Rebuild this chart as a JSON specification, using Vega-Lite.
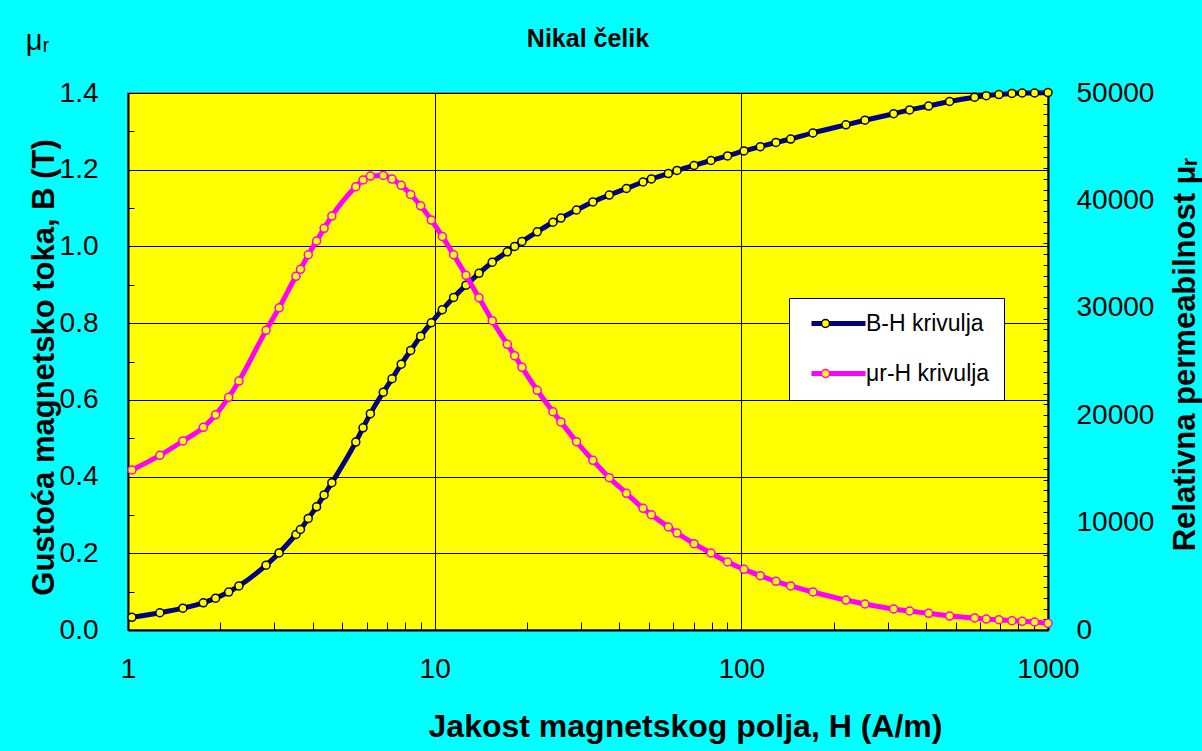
{
  "$schema": "https://vega.github.io/schema/vega-lite/v6.json",
  "width": 920,
  "height": 537,
  "autosize": {"type": "none"},
  "padding": {"left": 128, "top": 93, "right": 154, "bottom": 121},
  "background": "#00FFFF",
  "title": {"text": "Nikal čelik", "font": "Liberation Sans", "fontSize": 25, "fontWeight": "bold", "color": "black", "anchor": "middle", "frame": "group", "baseline": "alphabetic", "offset": 0, "dy": 46},
  "config": {
    "font": "Liberation Sans",
    "view": {"fill": "#FFFF00", "stroke": "#808080", "strokeWidth": 2},
    "axis": {"labelFont": "Liberation Sans", "titleFont": "Liberation Sans", "labelColor": "black", "titleColor": "black", "tickColor": "black", "domainColor": "black", "labelFontSize": 28, "titleFontSize": 31, "titleFontWeight": "bold", "labelFlush": false, "labelOverlap": false, "labelBound": false}
  },
  "data": {"values": [
    {"H": 1.03, "B": 0.033, "mu": 14900},
    {"H": 1.27, "B": 0.045, "mu": 16260},
    {"H": 1.51, "B": 0.057, "mu": 17600},
    {"H": 1.76, "B": 0.071, "mu": 18870},
    {"H": 1.93, "B": 0.083, "mu": 20040},
    {"H": 2.13, "B": 0.099, "mu": 21660},
    {"H": 2.30, "B": 0.115, "mu": 23180},
    {"H": 2.82, "B": 0.169, "mu": 27900},
    {"H": 3.11, "B": 0.201, "mu": 30000},
    {"H": 3.53, "B": 0.249, "mu": 32930},
    {"H": 3.65, "B": 0.262, "mu": 33580},
    {"H": 3.87, "B": 0.291, "mu": 34940},
    {"H": 4.12, "B": 0.321, "mu": 36220},
    {"H": 4.36, "B": 0.352, "mu": 37400},
    {"H": 4.62, "B": 0.384, "mu": 38540},
    {"H": 5.53, "B": 0.490, "mu": 41270},
    {"H": 5.84, "B": 0.527, "mu": 41900},
    {"H": 6.17, "B": 0.564, "mu": 42270},
    {"H": 6.80, "B": 0.620, "mu": 42330},
    {"H": 7.26, "B": 0.655, "mu": 41990},
    {"H": 7.78, "B": 0.693, "mu": 41400},
    {"H": 8.35, "B": 0.729, "mu": 40560},
    {"H": 9.00, "B": 0.766, "mu": 39500},
    {"H": 9.75, "B": 0.801, "mu": 38170},
    {"H": 10.59, "B": 0.835, "mu": 36650},
    {"H": 11.53, "B": 0.867, "mu": 34940},
    {"H": 12.65, "B": 0.899, "mu": 33020},
    {"H": 13.95, "B": 0.930, "mu": 30940},
    {"H": 15.41, "B": 0.959, "mu": 28800},
    {"H": 17.25, "B": 0.986, "mu": 26600},
    {"H": 18.23, "B": 1.000, "mu": 25540},
    {"H": 19.26, "B": 1.013, "mu": 24460},
    {"H": 21.6, "B": 1.038, "mu": 22320},
    {"H": 24.3, "B": 1.063, "mu": 20320},
    {"H": 25.8, "B": 1.074, "mu": 19370},
    {"H": 29.0, "B": 1.095, "mu": 17530},
    {"H": 32.8, "B": 1.116, "mu": 15800},
    {"H": 37.1, "B": 1.134, "mu": 14180},
    {"H": 42.2, "B": 1.151, "mu": 12730},
    {"H": 47.8, "B": 1.168, "mu": 11330},
    {"H": 50.9, "B": 1.176, "mu": 10730},
    {"H": 57.8, "B": 1.190, "mu": 9590},
    {"H": 61.7, "B": 1.198, "mu": 9030},
    {"H": 70.1, "B": 1.211, "mu": 8040},
    {"H": 79.6, "B": 1.224, "mu": 7170},
    {"H": 90.2, "B": 1.236, "mu": 6330},
    {"H": 102, "B": 1.249, "mu": 5650},
    {"H": 115.3, "B": 1.260, "mu": 5060},
    {"H": 129.7, "B": 1.271, "mu": 4530},
    {"H": 144.8, "B": 1.280, "mu": 4100},
    {"H": 171.2, "B": 1.296, "mu": 3540},
    {"H": 219.3, "B": 1.317, "mu": 2790},
    {"H": 253, "B": 1.329, "mu": 2420},
    {"H": 313.8, "B": 1.346, "mu": 1960},
    {"H": 353.8, "B": 1.356, "mu": 1770},
    {"H": 408, "B": 1.366, "mu": 1550},
    {"H": 477.6, "B": 1.378, "mu": 1300},
    {"H": 576.5, "B": 1.389, "mu": 1120},
    {"H": 629, "B": 1.393, "mu": 1020},
    {"H": 691.8, "B": 1.396, "mu": 960},
    {"H": 762.6, "B": 1.399, "mu": 870},
    {"H": 823.6, "B": 1.400, "mu": 810},
    {"H": 904, "B": 1.400, "mu": 745},
    {"H": 1000, "B": 1.401, "mu": 620}
  ]},
  "layer": [
    {
      "encoding": {
        "x": {"field": "H", "type": "quantitative", "scale": {"type": "log", "domain": [1, 1000]},
          "axis": {"orient": "bottom", "title": "Jakost magnetskog polja, H (A/m)", "values": [1,2,3,4,5,6,7,8,9,10,20,30,40,50,60,70,80,90,100,200,300,400,500,600,700,800,900,1000], "format": "d",
            "labelExpr": "(datum.value == 1 || datum.value == 10 || datum.value == 100 || datum.value == 1000) ? datum.label : ''",
            "grid": true, "gridWidth": 1, "gridColor": {"condition": {"test": "datum.value == 10 || datum.value == 100", "value": "black"}, "value": "transparent"},
            "tickSize": -8, "domainWidth": 2, "labelPadding": 33, "titleFontSize": 32, "titleX": 557, "titleY": 96, "titleBaseline": "middle", "titleAlign": "center"}},
        "y": {"field": "B", "type": "quantitative", "scale": {"domain": [0, 1.4]},
          "axis": {"orient": "left", "title": "Gustoća magnetsko toka, B (T)", "values": [0,0.1,0.2,0.3,0.4,0.5,0.6,0.7,0.8,0.9,1.0,1.1,1.2,1.3,1.4],
            "labelExpr": "round(datum.value*10) % 2 == 0 ? format(datum.value, '.1f') : ''",
            "grid": true, "gridWidth": 1, "gridColor": {"condition": {"test": "round(datum.value*10) % 2 == 0", "value": "black"}, "value": "transparent"},
            "tickSize": -6, "domainWidth": 2, "labelPadding": 36, "titleFontSize": 31, "titleAngle": -90, "titleX": -84, "titleY": 274, "titleBaseline": "middle", "titleAlign": "center"}}
      },
      "layer": [
        {"mark": {"type": "line", "interpolate": "monotone", "strokeWidth": 5},
         "encoding": {"color": {"datum": "B-H krivulja", "type": "nominal", "scale": {"domain": ["B-H krivulja", "μr-H krivulja"], "range": ["#000080", "#FF00FF"]},
           "legend": {"orient": "none", "legendX": 661, "legendY": 205, "title": null, "fillColor": "white", "strokeColor": "black", "padding": 14, "symbolType": "M-3.5,0H3.5", "symbolSize": 238, "symbolStrokeWidth": 5, "symbolOffset": 24, "labelOffset": 16, "labelFontSize": 23, "labelFont": "Liberation Sans", "labelColor": "black", "rowPadding": 26}}}},
        {"mark": {"type": "point", "filled": true, "fill": "#FFFF00", "size": 64, "strokeWidth": 1.5, "opacity": 1},
         "encoding": {"stroke": {"datum": "B", "type": "nominal", "scale": {"domain": ["B", "μ"], "range": ["#000000", "#FF00FF"]},
           "legend": {"orient": "none", "legendX": 661, "legendY": 205, "title": null, "padding": 14, "symbolType": "circle", "symbolSize": 64, "symbolFillColor": "#FFFF00", "symbolStrokeWidth": 1.5, "symbolOpacity": 1, "symbolOffset": 11, "labelFontSize": 23, "labelFont": "Liberation Sans", "labelColor": "transparent", "rowPadding": 26, "zindex": 2}}}}
      ]
    },
    {
      "encoding": {
        "x": {"field": "H", "type": "quantitative", "scale": {"type": "log", "domain": [1, 1000]},
          "axis": {"orient": "top", "title": "μᵣ", "domain": false, "ticks": false, "labels": false, "grid": false, "titleFontSize": 29, "titleFontWeight": "normal", "titleX": -91, "titleY": -53, "titleBaseline": "middle", "titleAlign": "center", "titleAngle": 0}},
        "y": {"field": "mu", "type": "quantitative", "scale": {"domain": [0, 50000]},
          "axis": {"orient": "right", "title": "Relativna permeabilnost μᵣ", "values": [0,1000,2000,3000,4000,5000,6000,7000,8000,9000,10000,11000,12000,13000,14000,15000,16000,17000,18000,19000,20000,21000,22000,23000,24000,25000,26000,27000,28000,29000,30000,31000,32000,33000,34000,35000,36000,37000,38000,39000,40000,41000,42000,43000,44000,45000,46000,47000,48000,49000,50000], "format": "d",
            "labelExpr": "datum.value % 10000 == 0 ? datum.label : ''",
            "grid": false, "tickSize": -5, "domainWidth": 2, "labelPadding": 33, "titleAngle": -90, "titleX": 137, "titleY": 261, "titleBaseline": "middle", "titleAlign": "center"}}
      },
      "layer": [
        {"mark": {"type": "line", "interpolate": "monotone", "strokeWidth": 5},
         "encoding": {"color": {"datum": "μr-H krivulja", "type": "nominal"}}},
        {"mark": {"type": "point", "filled": true, "fill": "#FFFF00", "size": 64, "strokeWidth": 1.5, "opacity": 1},
         "encoding": {"stroke": {"datum": "μ", "type": "nominal"}}}
      ]
    }
  ],
  "resolve": {"scale": {"y": "independent"}, "axis": {"x": "independent"}}
}
